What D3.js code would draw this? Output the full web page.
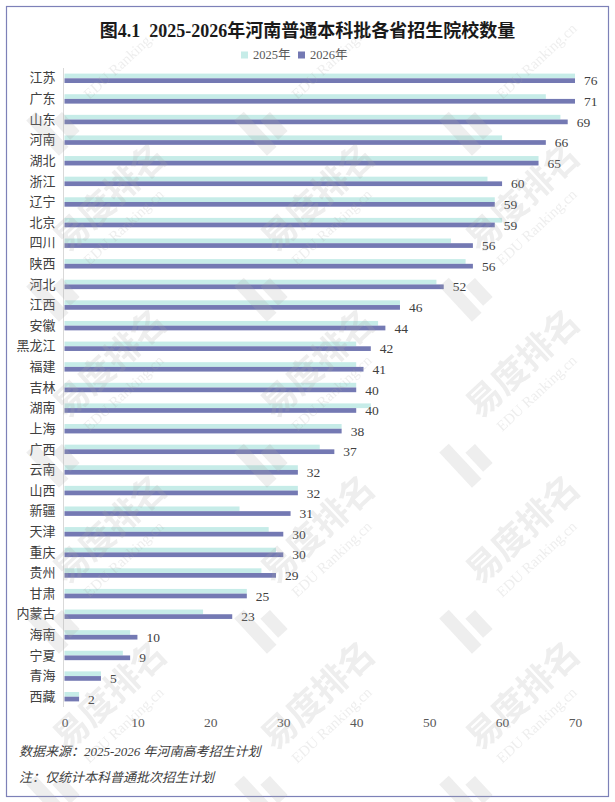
<!DOCTYPE html>
<html>
<head>
<meta charset="utf-8">
<script src="https://cdn.jsdelivr.net/npm/d3@7/dist/d3.min.js"></script>
<style>
  html, body { margin: 0; padding: 0; background: #ffffff; }
  svg { display: block; }
</style>
</head>
<body>
<svg id="chart" width="615" height="802"></svg>
<script>
// ---- data ----
const categories = ['江苏','广东','山东','河南','湖北','浙江','辽宁','北京','四川','陕西','河北','江西','安徽','黑龙江','福建','吉林','湖南','上海','广西','云南','山西','新疆','天津','重庆','贵州','甘肃','内蒙古','海南','宁夏','青海','西藏'];
const values2025 = [75,66,68,60,65,58,59,60,53,55,51,46,43,40,40,40,42,38,35,32,32,24,28,29,27,25,19,9,8,5,2];
const values2026 = [76,71,69,66,65,60,59,59,56,56,52,46,44,42,41,40,40,38,37,32,32,31,30,30,29,25,23,10,9,5,2];
const seriesNames = ['2025年','2026年'];
const xTicks = [0,10,20,30,40,50,60,70];
const titleText = '图4.1  2025-2026年河南普通本科批各省招生院校数量';
const notes = ['数据来源：2025-2026 年河南高考招生计划', '注：仅统计本科普通批次招生计划'];

// ---- styles ----
const colors = ['#c6ece8', '#7479b3'];
const serif = '"Liberation Serif", "Times New Roman", "Noto Sans CJK SC", serif';
const cjk = '"Noto Sans CJK SC", "Liberation Serif", sans-serif';

const svg = d3.select('#chart');
svg.append('rect').attr('x',0).attr('y',0).attr('width',615).attr('height',802).attr('fill','#ffffff');

// watermark (drawn first under bars? reference lightens bars, so draw later)
const wmCols = [67, 275, 480];
const wmRows = [88, 254, 420, 586, 752];

// frame
svg.append('rect').attr('x',6.5).attr('y',6.5).attr('width',602).attr('height',790)
  .attr('fill','none').attr('stroke','#7d81b8').attr('stroke-width',1.2);

// title
svg.append('text').attr('x',307.5).attr('y',37).attr('text-anchor','middle')
  .style('white-space','pre')
  .attr('font-family', serif).attr('font-weight','bold').attr('font-size',18)
  .attr('fill','#1a1a1a').text(titleText);

// legend
const legend = svg.append('g');
const legendX = [241, 298];
seriesNames.forEach((n,i) => {
  legend.append('rect').attr('x',legendX[i]).attr('y',51.5).attr('width',7).attr('height',7).attr('fill',colors[i]);
  legend.append('text').attr('x',legendX[i]+12).attr('y',55).attr('dominant-baseline','central')
    .attr('font-family',serif).attr('font-size',12.5).attr('fill','#595959').text(n);
});

// scales
const x = d3.scaleLinear().domain([0,70]).range([64.5,575]).clamp(true);
const y = d3.scaleBand().domain(categories).range([68,707]);
const bh = 4.7;

const rows = categories.map((c,i) => ({c, v25: values2025[i], v26: values2026[i]}));

// bars 2025
svg.append('g').selectAll('rect').data(rows).join('rect')
  .attr('x', x(0)).attr('y', d => y(d.c) + y.bandwidth()/2 - bh)
  .attr('width', d => x(d.v25) - x(0)).attr('height', bh).attr('fill', colors[0]);
// bars 2026
svg.append('g').selectAll('rect').data(rows).join('rect')
  .attr('x', x(0)).attr('y', d => y(d.c) + y.bandwidth()/2)
  .attr('width', d => x(d.v26) - x(0)).attr('height', bh).attr('fill', colors[1]);

// value labels (2026)
svg.append('g').selectAll('text').data(rows).join('text')
  .attr('x', d => x(d.v26) + 9).attr('y', d => y(d.c) + y.bandwidth()/2 + 2.5)
  .attr('dominant-baseline','central')
  .attr('font-family', serif).attr('font-size', 13.5).attr('fill','#404040')
  .text(d => d.v26);

// y axis
const yAxis = d3.axisLeft(y).tickSize(0).tickPadding(8);
const gy = svg.append('g').attr('transform', 'translate(63.5,0)').call(yAxis);
gy.select('.domain').attr('stroke','#d9d9d9').attr('stroke-width',1).attr('d','M0,68V707');
gy.selectAll('text').attr('font-family', cjk).attr('font-size', 13).attr('fill','#404040')
  .attr('dy','0.32em');

// x axis (labels only)
const xAxis = d3.axisBottom(x).tickValues(xTicks).tickSize(0).tickPadding(0).tickFormat(d3.format('d'));
const gx = svg.append('g').attr('transform','translate(0,715)').call(xAxis);
gx.select('.domain').remove();
gx.selectAll('text').attr('font-family', serif).attr('font-size', 13.5).attr('fill','#595959').attr('dy','0.9em');

// notes
notes.forEach((t,i) => {
  svg.append('text').attr('x',19).attr('y',751 + i*26).attr('dominant-baseline','central')
    .attr('font-family', serif).attr('font-style','italic').attr('font-size',13)
    .attr('fill','#404040').text(t);
});

// watermark
const wm = svg.append('g').attr('pointer-events','none').attr('opacity',0.2);
wmRows.forEach((ry, ri) => wmCols.forEach(cx => {
  const g = wm.append('g').attr('transform', `translate(${cx},${ry}) rotate(-43)`);
  if (ri > 0) {
    g.append('text').attr('x',0).attr('y',0).attr('font-family',cjk).attr('font-weight','bold')
      .attr('font-size',35).attr('fill','#a8a8a8').text('易度排名');
  }
  g.append('text').attr('x',8).attr('y',24).attr('font-family',serif)
    .attr('font-size',15).attr('fill','#a8a8a8').text('EDU Ranking.cn');
  g.append('rect').attr('x',-52).attr('y',-4).attr('width',13).attr('height',48).attr('fill','#a8a8a8');
  g.append('rect').attr('x',-33).attr('y',14).attr('width',13).attr('height',26).attr('fill','#a8a8a8');
}));
</script>
</body>
</html>
